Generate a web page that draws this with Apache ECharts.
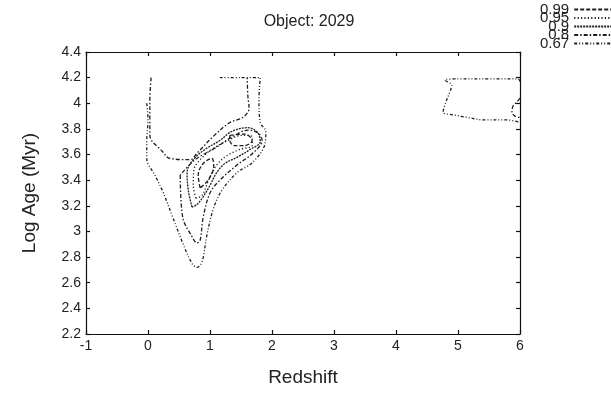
<!DOCTYPE html>
<html><head><meta charset="utf-8">
<script src="https://cdn.jsdelivr.net/npm/echarts@6/dist/echarts.min.js"></script>
<style>html,body{margin:0;padding:0;background:#fff}#c{width:611px;height:398px}</style>
</head><body><div id="c"></div>
<script>
// Tick labels / axis ranges
const xTicks = [-1, 0, 1, 2, 3, 4, 5, 6];
const yTicks = [2.2, 2.4, 2.6, 2.8, 3, 3.2, 3.4, 3.6, 3.8, 4, 4.2, 4.4];
const levels = ['0.99', '0.95', '0.9', '0.8', '0.67'];

// Contour pieces [redshift, logAge]
const c067_main = [[-0.02,4.00],[0.00,3.87],[-0.02,3.71],[-0.02,3.57],[0.11,3.44],[0.24,3.31],[0.40,3.11],[0.56,2.91],[0.71,2.75],[0.79,2.72],[0.87,2.76],[0.95,2.97],[1.05,3.17],[1.19,3.32],[1.44,3.46],[1.69,3.54],[1.89,3.69],[1.90,3.78],[1.81,3.85],[1.79,4.03],[1.81,4.20],[1.48,4.20],[1.16,4.20]];
const c067_right = [[6.0,4.17],[5.97,4.19],[5.5,4.19],[5.0,4.19],[4.79,4.18],[4.90,4.14],[4.87,4.09],[4.79,3.99],[4.76,3.93],[4.92,3.91],[5.15,3.89],[5.42,3.87],[5.79,3.87],[6.0,3.85]];
const c08_cup = [[0.05,4.20],[0.03,4.03],[0.03,3.87],[0.03,3.75],[0.24,3.62],[0.35,3.57],[0.68,3.56],[0.79,3.61],[1.05,3.74],[1.32,3.85],[1.53,3.89],[1.63,3.96],[1.61,4.06],[1.60,4.20]];
const c08_v = [[0.52,3.44],[0.56,3.11],[0.71,2.96],[0.79,2.91],[0.84,2.93],[0.89,3.11],[1.00,3.30],[1.16,3.40],[1.44,3.52],[1.69,3.61],[1.84,3.71],[1.77,3.77],[1.61,3.79],[1.40,3.75],[1.08,3.65],[0.76,3.56],[0.52,3.44]];
const c08_right = [[6.0,4.04],[5.95,4.01],[5.89,3.98],[5.87,3.93],[5.92,3.90],[6.0,3.89]];
const c09 = [[0.71,3.19],[0.65,3.32],[0.63,3.46],[0.73,3.56],[0.92,3.64],[1.16,3.71],[1.35,3.78],[1.61,3.81],[1.77,3.77],[1.81,3.70],[1.65,3.64],[1.44,3.58],[1.24,3.53],[1.11,3.46],[1.00,3.36],[0.89,3.27],[0.79,3.21],[0.71,3.19]];
const c095 = [[0.77,3.26],[0.73,3.36],[0.74,3.48],[0.84,3.56],[1.03,3.64],[1.29,3.71],[1.52,3.75],[1.68,3.74],[1.68,3.67],[1.48,3.64],[1.24,3.58],[1.08,3.50],[0.97,3.39],[0.87,3.28],[0.77,3.26]];
const c099_a = [[0.84,3.34],[0.81,3.44],[0.89,3.53],[1.03,3.57],[1.06,3.51],[0.97,3.40],[0.84,3.34]];
const c099_b = [[1.32,3.75],[1.56,3.76],[1.68,3.71],[1.56,3.67],[1.40,3.67],[1.32,3.71],[1.32,3.75]];

const dash = {
  '0.99': [4, 2],
  '0.95': [1.2, 2.2],
  '0.9': [2, 1],
  '0.8': [4, 2, 1.5, 2],
  '0.67': [3, 2, 1, 2, 1, 2]
};
const pieces = [
  ['0.99', c099_a], ['0.99', c099_b],
  ['0.95', c095],
  ['0.9', c09],
  ['0.8', c08_cup], ['0.8', c08_v], ['0.8', c08_right],
  ['0.67', c067_main], ['0.67', c067_right]
];

const chart = echarts.init(document.getElementById('c'), null, {renderer: 'canvas'});
const font = 'Liberation Sans, Arial, Helvetica, sans-serif';
const ink = '#1e1e1e';
const series = pieces.map(([name, data]) => ({
  type: 'line', name: name, data: data, showSymbol: false, symbol: 'none',
  smooth: 0.35, silent: true,
  itemStyle: {color: ink},
  lineStyle: {color: ink, width: 1.3, type: dash[name]}
}));

const commonAxis = {
  axisLine: {show: true, onZero: false, lineStyle: {color: '#111', width: 1.2}},
  axisTick: {show: true, inside: true, length: 4, lineStyle: {color: '#111', width: 1.2}},
  splitLine: {show: false}
};

chart.setOption({
  animation: false,
  backgroundColor: '#fff',
  title: {text: 'Object: 2029', left: 304, textAlign: 'center', top: 9,
    textStyle: {fontFamily: font, fontSize: 16, fontWeight: 'normal', color: '#222'}},
  legend: {
    data: levels, orient: 'vertical', left: 535, top: -3, align: 'right',
    itemWidth: 40, itemHeight: 8, itemGap: -6.5,
    itemStyle: {opacity: 0, borderWidth: 0},
    formatter: n => '{a|' + n + '}',
    textStyle: {fontFamily: font, color: '#222', fontSize: 15,
      rich: {a: {width: 36, align: 'right', fontSize: 15, fontFamily: font, color: '#222'}}}
  },
  grid: {left: 86, right: 91, top: 52, bottom: 64},
  xAxis: [
    Object.assign({type: 'value', min: xTicks[0], max: xTicks[xTicks.length - 1], interval: 1,
      name: 'Redshift', nameLocation: 'middle', nameGap: 34,
      nameTextStyle: {fontFamily: font, fontSize: 19, color: '#222'},
      axisLabel: {fontFamily: font, fontSize: 14, color: '#222', margin: 5}}, commonAxis),
    Object.assign({type: 'value', position: 'top', min: -1, max: 6, interval: 1,
      axisLabel: {show: false}}, commonAxis)
  ],
  yAxis: [
    Object.assign({type: 'value', min: yTicks[0], max: yTicks[yTicks.length - 1], interval: 0.2,
      name: 'Log Age (Myr)', nameLocation: 'middle', nameGap: 47,
      nameTextStyle: {fontFamily: font, fontSize: 19, color: '#222'},
      axisLabel: {fontFamily: font, fontSize: 14, color: '#222', margin: 5,
        formatter: v => String(Math.round(v * 10) / 10)}}, commonAxis),
    Object.assign({type: 'value', position: 'right', min: 2.2, max: 4.4, interval: 0.2,
      axisLabel: {show: false}}, commonAxis)
  ],
  series: series
});
</script></body></html>
